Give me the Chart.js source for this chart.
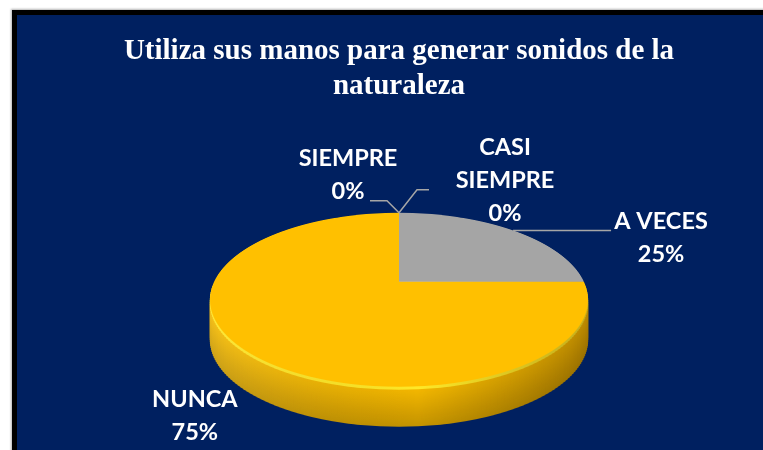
<!DOCTYPE html>
<html lang="es">
<head>
<meta charset="UTF-8">
<title>Utiliza sus manos para generar sonidos de la naturaleza</title>
<script src="https://cdn.jsdelivr.net/npm/chart.js"></script>
<style>
  html, body { margin: 0; padding: 0; background: #fff; overflow: hidden; }
  .frame {
    position: absolute; left: 12px; top: 10px; width: 800px; height: 500px;
    background: #002060; border-left: 5px solid #000; border-top: 5px solid #000;
    box-shadow: -1px -1px 2px rgba(0, 0, 0, 0.3);
  }
  #chart { position: absolute; left: 0; top: 0; }
</style>
</head>
<body>
<div class="frame"><canvas id="chart" width="746" height="435"></canvas></div>

<script>
// data
const categories = ['SIEMPRE', 'CASI SIEMPRE', 'A VECES', 'NUNCA'];
const values = [0, 0, 25, 75];
const titleLines = ['Utiliza sus manos para generar sonidos de la', 'naturaleza'];

// office palette, only gray and yellow are visible
const sliceColors = ['#4472c4', '#ed7d31', '#a5a5a5', '#ffc000'];

// look of the tilted 3d pie (screen pixels)
const VIEW = { rx: 189, ryFar: 69, ryNear: 105, depth: 40 };
const tilt = (VIEW.ryFar - VIEW.ryNear) / (VIEW.ryFar + VIEW.ryNear);
const kY = VIEW.ryFar * (1 - tilt);
const kX = VIEW.rx * Math.sqrt(1 - tilt * tilt);

// where each label sits relative to its anchor on the rim
const labelLayout = [
  { wrap: false, dx: -51, dy: -54, lead: [[-12, -12], [-29, -12]] },
  { wrap: true,  dx: 106, dy: -65, lead: [[18, -23], [30, -23]] },
  { wrap: false, dx: 148, dy: -9,  lead: [[98, 0]] },
  { wrap: false, dx: -51, dy: 49,  lead: null }
];

function rgb(hex) {
  const n = parseInt(hex.slice(1), 16);
  return [n >> 16 & 255, n >> 8 & 255, n & 255];
}
function mix(hex, m, lift) {
  const c = rgb(hex).map(v => Math.round(Math.min(255, v * m + lift)));
  return 'rgb(' + c.join(',') + ')';
}

// flat pie coords -> tilted screen coords
function project(el, x, y) {
  const R = el.outerRadius;
  const u = (x - el.x) / R, v = (y - el.y) / R;
  const d = 1 + tilt * v;
  return { x: el.x + kX * u / d, y: el.y + kY * v / d };
}

// draw something in flat coords, squeezed into the tilted view band by band
function drawTilted(ctx, el, shift, step, paint) {
  const R = el.outerRadius;
  const top = Math.floor(el.y - VIEW.ryFar) - 1;
  const bottom = Math.ceil(el.y + VIEW.ryNear) + 1;
  for (let Y = top; Y < bottom; Y += step) {
    const Yb = Math.min(Y + step, bottom);
    const a = Y - el.y, b = Yb - el.y;
    const v1 = a / (kY - tilt * a), v2 = b / (kY - tilt * b);
    const y1 = el.y + v1 * R, y2 = el.y + v2 * R;
    const sy = (Yb - Y) / (y2 - y1);
    const sx = (kX / R) / (1 + tilt * (v1 + v2) / 2);
    ctx.save();
    ctx.setTransform(1, 0, 0, 1, 0, 0);
    ctx.beginPath();
    ctx.rect(0, Y + shift, ctx.canvas.width, Yb - Y);
    ctx.clip();
    ctx.setTransform(sx, 0, 0, sy, el.x - sx * el.x, Y + shift - sy * y1);
    paint();
    ctx.restore();
  }
}

const pie3d = {
  id: 'pie3d',
  beforeDatasetsDraw(chart) {
    const ctx = chart.ctx;
    const arcs = chart.getDatasetMeta(0).data;
    const el = arcs[0];

    // side wall: stack of darker copies pushed down
    for (let k = VIEW.depth; k >= 1; k--) {
      const f = k / VIEW.depth;
      drawTilted(ctx, el, k, 2, () => {
        arcs.forEach((a, i) => {
          if (a.endAngle - a.startAngle <= 0) return;
          ctx.fillStyle = f < 0.1 ? mix(sliceColors[i], 1, 40) : mix(sliceColors[i], 0.97 - 0.2 * f, 0);
          ctx.beginPath();
          ctx.moveTo(a.x, a.y);
          ctx.arc(a.x, a.y, a.outerRadius, a.startAngle, a.endAngle);
          ctx.closePath();
          ctx.fill();
        });
      });
    }

    // light from the left, shadow on the right of the wall
    ctx.save();
    ctx.setTransform(1, 0, 0, 1, 0, 0);
    ctx.globalCompositeOperation = 'source-atop';
    const g = ctx.createLinearGradient(el.x - VIEW.rx, 0, el.x + VIEW.rx, 0);
    g.addColorStop(0, 'rgba(255,235,140,0.18)');
    g.addColorStop(0.55, 'rgba(0,0,0,0)');
    g.addColorStop(1, 'rgba(50,25,0,0.28)');
    ctx.fillStyle = g;
    ctx.fillRect(el.x - VIEW.rx - 5, el.y - VIEW.ryFar - 2, 2 * VIEW.rx + 10,
      VIEW.ryFar + VIEW.ryNear + VIEW.depth + 6);
    ctx.restore();

    // top face drawn by the arc elements themselves
    drawTilted(ctx, el, 0, 1, () => arcs.forEach(a => a.draw(ctx)));
    return false;
  },
  afterDraw(chart) {
    const ctx = chart.ctx;
    const arcs = chart.getDatasetMeta(0).data;
    const total = values.reduce((s, v) => s + v, 0);
    ctx.save();
    ctx.setTransform(1, 0, 0, 1, 0, 0);
    ctx.font = 'bold 23.5px Lato, "Liberation Sans", sans-serif';
    ctx.textAlign = 'center';
    ctx.textBaseline = 'middle';
    arcs.forEach((a, i) => {
      const mid = (a.startAngle + a.endAngle) / 2;
      const p = project(a, a.x + a.outerRadius * Math.cos(mid), a.y + a.outerRadius * Math.sin(mid));
      const lay = labelLayout[i];
      if (lay.lead) {
        ctx.strokeStyle = '#a6a6a6';
        ctx.lineWidth = 1.5;
        ctx.beginPath();
        ctx.moveTo(p.x, p.y);
        lay.lead.forEach(d => ctx.lineTo(p.x + d[0], p.y + d[1]));
        ctx.stroke();
      }
      const lines = lay.wrap ? categories[i].split(' ') : [categories[i]];
      lines.push(Math.round(values[i] / total * 100) + '%');
      ctx.fillStyle = '#ffffff';
      lines.forEach((t, j) => ctx.fillText(t, p.x + lay.dx, p.y + lay.dy + j * 33));
    });
    ctx.restore();
  }
};

new Chart(document.getElementById('chart'), {
  type: 'pie',
  data: {
    labels: categories,
    datasets: [{
      data: values,
      backgroundColor: sliceColors,
      borderWidth: 0,
      hoverOffset: 0
    }]
  },
  options: {
    responsive: false,
    devicePixelRatio: 1,
    animation: false,
    events: [],
    layout: { padding: { left: 18, right: 0, top: 0, bottom: 10 } },
    plugins: {
      legend: { display: false },
      tooltip: { enabled: false },
      title: {
        display: true,
        text: titleLines,
        color: '#ffffff',
        font: { family: '"Liberation Serif", "Times New Roman", serif', size: 29, weight: 'bold', lineHeight: 1.2 },
        padding: { top: 19, bottom: 20 }
      }
    }
  },
  plugins: [pie3d]
});
</script>
</body>
</html>
